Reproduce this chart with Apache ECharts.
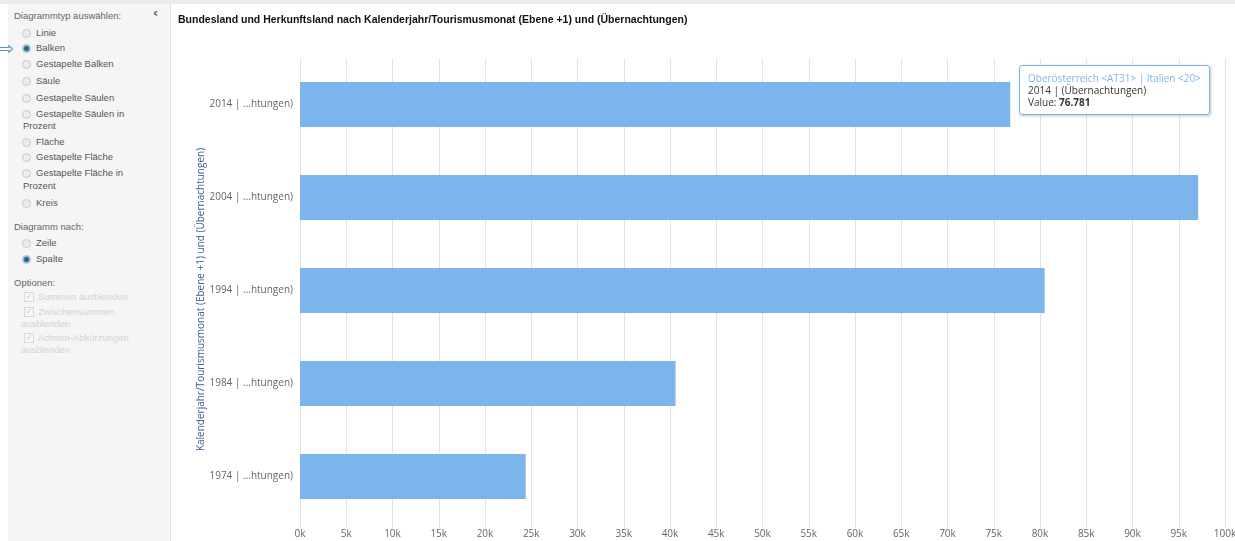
<!DOCTYPE html>
<html>
<head>
<meta charset="utf-8">
<script src="https://cdn.jsdelivr.net/npm/echarts@6/dist/echarts.min.js"></script>
<style>
  html, body { margin: 0; padding: 0; background: #fff; }
  body { width: 1235px; height: 541px; position: relative; overflow: hidden; font-family: "Liberation Sans", Arial, sans-serif; }
  .topbar { position: absolute; left: 0; top: 0; width: 1235px; height: 4px; background: #ececec; }
  .side { position: absolute; left: 8px; top: 4px; width: 162px; height: 537px; background: #f5f5f5; border-right: 1px solid #e2e2e2; }
  .side div { position: absolute; font-size: 9.5px; line-height: 12px; color: #555; white-space: nowrap; }
  .side .hd { color: #666; }
  .side .off { color: #d4d4d4; }
  .radio { position: absolute; width: 7px; height: 7px; border-radius: 50%; border: 1px solid #c8c8c8; background: #ececec; }
  .radio.on { background: radial-gradient(circle, #1f5f7f 0, #2f7495 45%, #c9d8e0 70%); border-color: #a9bcc8; }
  .chk { position: absolute; width: 8px; height: 8px; border: 1px solid #d8d8d8; background: #f7f7f7; font-size: 8px; line-height: 8px; color: #c8c8c8; text-align: center; font-family: "DejaVu Sans", sans-serif; }
  .arrow { position: absolute; left: -2px; top: 37px; font-size: 19px; color: #5d8fd2; font-family: "DejaVu Sans", sans-serif; }
  .collapse { position: absolute; left: 153px; top: 6px; font-size: 12px; color: #555; font-weight: bold; font-family: "DejaVu Sans", sans-serif; }
  #chart { position: absolute; left: 172px; top: 4px; width: 1063px; height: 537px; }
</style>
</head>
<body>
<div class="topbar"></div>
<div class="side" id="side"></div>
<div class="collapse">‹</div>
<div class="arrow">⇨</div>
<div id="chart"></div>
<script>
// sidebar entries: [text, y centre, kind]
const sideItems = [
  ["Diagrammtyp auswählen:", 16, "hd"],
  ["Linie", 33, "radio"],
  ["Balken", 48, "radioOn"],
  ["Gestapelte Balken", 64, "radio"],
  ["Säule", 81, "radio"],
  ["Gestapelte Säulen", 98, "radio"],
  ["Gestapelte Säulen in", 114, "radio"],
  ["Prozent", 126, "wrap"],
  ["Fläche", 142, "radio"],
  ["Gestapelte Fläche", 157, "radio"],
  ["Gestapelte Fläche in", 173, "radio"],
  ["Prozent", 186, "wrap"],
  ["Kreis", 203, "radio"],
  ["Diagramm nach:", 227, "hd"],
  ["Zeile", 243, "radio"],
  ["Spalte", 259, "radioOn"],
  ["Optionen:", 283, "hd"],
  ["Summen ausblenden", 297, "chk"],
  ["Zwischensummen", 312, "chk"],
  ["ausblenden", 324, "wrapOff"],
  ["Achsen-Abkürzungen", 338, "chk"],
  ["ausblenden", 350, "wrapOff"]
]

const side = document.getElementById("side")
sideItems.forEach(([txt, y, kind]) => {
  const top = y - 6 - 4
  const t = document.createElement("div")
  t.textContent = txt
  t.style.top = top + "px"
  if (kind === "hd") { t.style.left = "6px"; t.className = "hd" }
  else if (kind === "wrap") { t.style.left = "15px" }
  else if (kind === "wrapOff") { t.style.left = "13px"; t.className = "off" }
  else if (kind === "chk") {
    t.style.left = "30px"; t.className = "off"
    const c = document.createElement("span")
    c.className = "chk"
    c.textContent = "✓"
    c.style.left = "16px"; c.style.top = (y - 5 - 4) + "px"
    side.appendChild(c)
  } else {
    t.style.left = "28px"
    const r = document.createElement("span")
    r.className = kind === "radioOn" ? "radio on" : "radio"
    r.style.left = "14px"; r.style.top = (y - 4 - 4) + "px"
    side.appendChild(r)
  }
  side.appendChild(t)
})

const categories = ["2014 | ...htungen)", "2004 | ...htungen)", "1994 | ...htungen)", "1984 | ...htungen)", "1974 | ...htungen)"]
const years = ["2014", "2004", "1994", "1984", "1974"]
const values = [76781, 97100, 80500, 40600, 24400]
const seriesName = "Oberösterreich <AT31> | Italien <20>"

const chart = echarts.init(document.getElementById("chart"))
const fmt = v => String(v).replace(/\B(?=(\d{3})+(?!\d))/g, ".")
const esc = s => s.replace(/</g, "&lt;").replace(/>/g, "&gt;")

const option = {
  animation: false,
  title: {
    text: "Bundesland und Herkunftsland nach Kalenderjahr/Tourismusmonat (Ebene +1) und (Übernachtungen)",
    left: 1,
    top: 6,
    textStyle: { fontFamily: "Liberation Sans", fontSize: 10.5, fontWeight: "bold", color: "#111" }
  },
  tooltip: {
    trigger: "item",
    alwaysShowContent: true,
    transitionDuration: 0,
    backgroundColor: "rgba(255,255,255,0.95)",
    borderColor: "#7cb5ec",
    borderWidth: 1,
    borderRadius: 3,
    padding: [6, 8],
    extraCssText: "box-shadow: 1px 1px 3px rgba(0,0,0,0.25); line-height: 12px;",
    textStyle: { fontFamily: "Open Sans", fontSize: 10, color: "#333" },
    position: () => [847, 61],
    formatter: p =>
      '<span style="color:#7cb5ec">' + esc(seriesName) + "</span><br/>" +
      years[p.dataIndex] + " | (Übernachtungen)<br/>" +
      "Value: <b>" + fmt(p.value) + "</b>"
  },
  grid: { left: 128, right: 10, top: 54, bottom: 18, outerBoundsMode: "none" },
  xAxis: {
    type: "value",
    min: 0,
    max: 100000,
    interval: 5000,
    axisLine: { show: false },
    axisTick: { show: true, length: 5, lineStyle: { color: "#e3e3e3" } },
    splitLine: { lineStyle: { color: "#e3e3e3" } },
    axisLabel: {
      margin: 6,
      color: "#666",
      fontFamily: "Open Sans",
      fontSize: 10,
      formatter: v => v / 1000 + "k"
    }
  },
  yAxis: {
    type: "category",
    inverse: true,
    data: categories,
    name: "Kalenderjahr/Tourismusmonat (Ebene +1) und (Übernachtungen)",
    nameLocation: "middle",
    nameGap: 94,
    nameMoveOverlap: false,
    nameTextStyle: { color: "#3d5c98", fontFamily: "Open Sans", fontSize: 10, padding: [0, 18, 0, 0] },
    axisLine: { show: false },
    axisTick: { show: false },
    axisLabel: { margin: 7, color: "#666", fontFamily: "Open Sans", fontSize: 10 }
  },
  series: [
    {
      name: seriesName,
      type: "bar",
      data: values,
      barWidth: 45,
      itemStyle: { color: "#7cb5ec" },
      emphasis: { disabled: true }
    }
  ]
}
chart.setOption(option)
chart.dispatchAction({ type: "showTip", seriesIndex: 0, dataIndex: 0 })
</script>
</body>
</html>
